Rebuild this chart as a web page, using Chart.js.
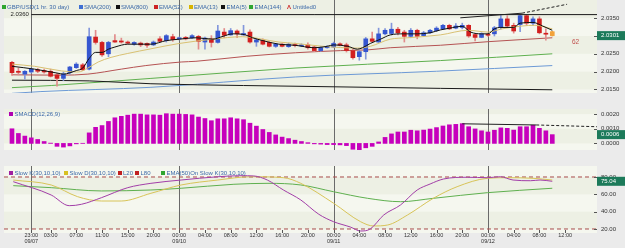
<!DOCTYPE html>
<html>
<head>
<meta charset="utf-8">
<script src="https://cdn.jsdelivr.net/npm/chart.js@4.4.1/dist/chart.umd.min.js"></script>
<style>
  body { margin: 0; background: #ebebeb; font-family: "Liberation Sans", Arial, sans-serif; }
  #wrap { position: relative; width: 625px; height: 248px; overflow: hidden; }
  #wrap canvas { position: absolute; left: 0; }
  .lg { position: absolute; font-size: 6px; line-height: 7px; color: #3d6aa8; white-space: nowrap; }
  .sq { position: absolute; width: 4px; height: 4px; }
  .note { position: absolute; white-space: nowrap; }
</style>
</head>
<body>
<div id="wrap">
  <canvas id="priceChart" width="625" height="108" style="top:0"></canvas>
  <canvas id="macdChart" width="625" height="56" style="top:109px"></canvas>
  <canvas id="stochChart" width="625" height="82" style="top:166px"></canvas>
  <span class="note" style="left:10.5px;top:11px;font-size:6px;color:#222">2.0360</span>
  <span class="note" style="left:572px;top:37.5px;font-size:6.5px;color:#c0504d">62</span>
</div>
<script>
// hourly bars, index 0 = first candle
const X_MIN = -1.24;
const X_MAX = 90.95;

const timeTickIdx = [3, 6, 10, 14, 18, 22, 26, 30, 34, 38, 42, 46, 50, 54, 58, 62, 66, 70, 74, 78, 82, 86];
const timeTickLabels = [
  ["23:00", "09/07"], "03:00", "07:00", "11:00", "15:00", "20:00",
  ["00:00", "09/10"], "04:00", "08:00", "12:00", "16:00", "20:00",
  ["00:00", "09/11"], "04:00", "08:00", "12:00", "16:00", "20:00",
  ["00:00", "09/12"], "04:00", "08:00", "12:00",
];
const dayLineIdx = [3, 26, 50, 74];

const openP = [2.0226, 2.0201, 2.0193, 2.0199, 2.0205, 2.0203, 2.0201, 2.0191, 2.0181, 2.0197,
  2.0211, 2.0219, 2.0207, 2.0297, 2.0282, 2.0250, 2.0287, 2.0286, 2.0283, 2.0277,
  2.0280, 2.0279, 2.0275, 2.0292, 2.0287, 2.0298, 2.0292, 2.0296, 2.0295, 2.0299,
  2.0283, 2.0292, 2.0282, 2.0311, 2.0303, 2.0314, 2.0303, 2.0311, 2.0283, 2.0287,
  2.0282, 2.0271, 2.0277, 2.0270, 2.0275, 2.0272, 2.0275, 2.0269, 2.0259, 2.0267,
  2.0269, 2.0278, 2.0275, 2.0259, 2.0242, 2.0256, 2.0292, 2.0283, 2.0306, 2.0307,
  2.0319, 2.0311, 2.0299, 2.0316, 2.0301, 2.0309, 2.0315, 2.0320, 2.0330, 2.0322,
  2.0324, 2.0330, 2.0304, 2.0296, 2.0305, 2.0306, 2.0324, 2.0348, 2.0330, 2.0332,
  2.0357, 2.0336, 2.0348, 2.0307, 2.0312];
const highP = [2.0229, 2.0210, 2.0203, 2.0210, 2.0209, 2.0207, 2.0207, 2.0195, 2.0199, 2.0215,
  2.0225, 2.0223, 2.0322, 2.0316, 2.0285, 2.0285, 2.0304, 2.0294, 2.0286, 2.0284,
  2.0283, 2.0281, 2.0286, 2.0298, 2.0304, 2.0305, 2.0297, 2.0299, 2.0304, 2.0302,
  2.0297, 2.0301, 2.0330, 2.0321, 2.0321, 2.0317, 2.0330, 2.0317, 2.0293, 2.0292,
  2.0284, 2.0279, 2.0279, 2.0280, 2.0280, 2.0278, 2.0281, 2.0272, 2.0271, 2.0273,
  2.0283, 2.0281, 2.0280, 2.0263, 2.0259, 2.0296, 2.0311, 2.0322, 2.0321, 2.0336,
  2.0324, 2.0316, 2.0321, 2.0319, 2.0313, 2.0319, 2.0326, 2.0333, 2.0333, 2.0335,
  2.0336, 2.0332, 2.0306, 2.0309, 2.0308, 2.0327, 2.0357, 2.0357, 2.0336, 2.0359,
  2.0359, 2.0354, 2.0354, 2.0320, 2.0313];
const lowP = [2.0189, 2.0191, 2.0179, 2.0196, 2.0197, 2.0196, 2.0185, 2.0159, 2.0175, 2.0193,
  2.0209, 2.0203, 2.0205, 2.0277, 2.0243, 2.0242, 2.0282, 2.0280, 2.0278, 2.0274,
  2.0270, 2.0268, 2.0273, 2.0283, 2.0283, 2.0285, 2.0289, 2.0289, 2.0293, 2.0263,
  2.0263, 2.0269, 2.0280, 2.0295, 2.0302, 2.0295, 2.0302, 2.0280, 2.0271, 2.0275,
  2.0269, 2.0268, 2.0269, 2.0268, 2.0269, 2.0270, 2.0263, 2.0256, 2.0257, 2.0266,
  2.0267, 2.0272, 2.0255, 2.0235, 2.0232, 2.0235, 2.0283, 2.0282, 2.0303, 2.0303,
  2.0303, 2.0283, 2.0295, 2.0292, 2.0299, 2.0307, 2.0313, 2.0319, 2.0318, 2.0320,
  2.0320, 2.0296, 2.0286, 2.0295, 2.0299, 2.0300, 2.0320, 2.0324, 2.0308, 2.0312,
  2.0330, 2.0330, 2.0306, 2.0288, 2.0300];
const closeP = [2.0197, 2.0198, 2.0201, 2.0207, 2.0201, 2.0199, 2.0187, 2.0181, 2.0193, 2.0213,
  2.0221, 2.0205, 2.0298, 2.0282, 2.0247, 2.0282, 2.0283, 2.0283, 2.0280, 2.0282,
  2.0275, 2.0274, 2.0283, 2.0285, 2.0301, 2.0290, 2.0295, 2.0292, 2.0301, 2.0285,
  2.0294, 2.0282, 2.0314, 2.0302, 2.0315, 2.0306, 2.0307, 2.0283, 2.0289, 2.0277,
  2.0271, 2.0277, 2.0271, 2.0277, 2.0273, 2.0275, 2.0267, 2.0259, 2.0267, 2.0271,
  2.0279, 2.0274, 2.0259, 2.0239, 2.0256, 2.0292, 2.0285, 2.0306, 2.0316, 2.0319,
  2.0309, 2.0299, 2.0316, 2.0299, 2.0309, 2.0316, 2.0322, 2.0330, 2.0320, 2.0328,
  2.0330, 2.0300, 2.0296, 2.0306, 2.0302, 2.0323, 2.0348, 2.0328, 2.0314, 2.0357,
  2.0336, 2.0348, 2.0309, 2.0305, 2.0301];

// moving averages as [bar index, price]
const ema5 = [[0, 2.0215], [3.5, 2.0207], [7, 2.0196], [8, 2.0193], [10, 2.0203], [11, 2.0210],
  [12, 2.0237], [13, 2.0254], [14, 2.0254], [15, 2.0263], [16, 2.0269], [18, 2.0277], [21.6, 2.0277],
  [24, 2.0287], [26, 2.0291], [28.6, 2.0295], [31.2, 2.0291], [32.8, 2.0299], [34.3, 2.0306],
  [36.3, 2.0303], [37.4, 2.0295], [39, 2.0287], [41.5, 2.0277], [44, 2.0274], [47, 2.0267],
  [49, 2.0271], [50, 2.0275], [52.2, 2.0271], [53.7, 2.0263], [54.5, 2.0267], [55.7, 2.0279],
  [57.3, 2.0291], [58.8, 2.0303], [60.9, 2.0306], [63, 2.0306], [65, 2.0309], [66.6, 2.0317],
  [68, 2.0322], [70, 2.0327], [71.3, 2.0311], [73, 2.0306], [74, 2.0306], [75, 2.0320],
  [76, 2.0324], [78, 2.0324], [79, 2.0336], [81, 2.0338], [82.5, 2.0328], [84, 2.0316]];
const ema13 = [[0, 2.0221], [3.5, 2.0215], [7.7, 2.0202], [10.3, 2.0199], [11.8, 2.0210],
  [13.4, 2.0227], [15.4, 2.0240], [18, 2.0251], [21.6, 2.0264], [26, 2.0279], [31.2, 2.0291],
  [35.8, 2.0298], [41.5, 2.0283], [44.1, 2.0279], [48.4, 2.0271], [53.7, 2.0266], [55.7, 2.0271],
  [58.8, 2.0291], [61.5, 2.0295], [66.6, 2.0303], [70.9, 2.0316], [74, 2.0311], [76.2, 2.0320],
  [79.3, 2.0328], [81.3, 2.0330], [84, 2.0320]];
const ema52 = [[0, 2.0191], [7.6, 2.0190], [11.8, 2.0193], [17, 2.0207], [20.8, 2.0217],
  [26.3, 2.0227], [28.6, 2.0229], [36.4, 2.0243], [44.1, 2.0253], [51.1, 2.0259], [55.3, 2.0261],
  [58.8, 2.0267], [66.6, 2.0274], [74, 2.0284], [84, 2.0295]];
const ema144 = [[0, 2.0155], [6.1, 2.0161], [21.6, 2.0181], [44, 2.0210], [66.6, 2.0231], [84, 2.0250]];
const sma200 = [[0, 2.0139], [4.5, 2.0144], [21.6, 2.0156], [44.1, 2.0185], [66, 2.0201], [84, 2.0217]];
const sma800 = [[0, 2.0176], [12, 2.0174], [21.6, 2.0166], [36, 2.0161], [44, 2.0159], [66.6, 2.0153], [84, 2.0149]];

const levelLine = [[3, 2.0360], [X_MAX, 2.0360]];
const trendSolid = [[69.7, 2.0351], [79.3, 2.0364]];
const trendDash = [[79.3, 2.0364], [86.3, 2.0389]];

const macdHist = [0.0010, 0.00068, 0.0005, 0.00038, 0.00027, 0.00013, 0.00002, -0.0002, -0.00025, -0.00017,
  -0.00003, 0.00001, 0.00072, 0.0011, 0.00122, 0.0015, 0.00175, 0.00185, 0.00193, 0.0020,
  0.0020, 0.00195, 0.00195, 0.00193, 0.00203, 0.0020, 0.0020, 0.00198, 0.00195, 0.0018,
  0.0017, 0.00155, 0.00168, 0.00168, 0.00175, 0.00168, 0.00162, 0.00138, 0.00118, 0.00095,
  0.00075, 0.00058, 0.00043, 0.00033, 0.00022, 0.00013, 0.00005, -0.00003, -0.00005, -0.00008,
  -0.00008, -0.0001, -0.00015, -0.0004, -0.00045, -0.0003, -0.0002, 0.0001, 0.00041, 0.00065,
  0.00078, 0.00078, 0.0009, 0.00086, 0.00091, 0.00098, 0.00108, 0.00119, 0.00127, 0.0013,
  0.00135, 0.00114, 0.00099, 0.00086, 0.00078, 0.0009, 0.00106, 0.00103, 0.00091, 0.00114,
  0.00114, 0.00124, 0.00103, 0.00086, 0.0006];
const macdTrendSolid = [[70, 0.00134], [81.5, 0.00126]];
const macdTrendDash = [[81.5, 0.00126], [90.95, 0.00114]];

const slowK = [[0.2, 74.6], [6.1, 59.2], [8.9, 46.9], [10.8, 48.5], [13.9, 56.1], [18, 67.7],
  [21.6, 72.7], [26.3, 76.5], [32, 80.3], [35.6, 81.5], [37.6, 81.2], [39.7, 76.5], [42.2, 65],
  [44.9, 53.5], [47.7, 37], [50, 28.4], [52.6, 22.3], [54.2, 17.7], [55.7, 20], [57.8, 36.2],
  [60.4, 47.7], [63, 65], [65, 71.9], [67.1, 77.7], [70.8, 79.7], [73.9, 79.2], [75.9, 80.3],
  [77.9, 76.5], [80.6, 75.7], [82.1, 76.5], [84, 75.04]];
const slowD = [[0.2, 76.5], [6.1, 70.8], [10.2, 57.3], [13.9, 52.3], [17, 52.3], [21.6, 61.2],
  [26.3, 70.8], [32, 76.5], [37.1, 80.3], [42.2, 79.2], [44.9, 72.7], [50, 49.7], [54.2, 28.4],
  [56.2, 23.5], [58.4, 24.6], [61.5, 36.2], [65.5, 55.4], [69.2, 68.8], [73.9, 78.5], [77, 79.2],
  [81, 78.5], [84, 76.5]];
const emaSlowK = [[0.2, 70], [6.1, 67.7], [13.9, 63.9], [21.6, 65], [26.3, 67], [34.5, 71.6],
  [39.8, 72.7], [44.9, 70.8], [50, 63], [55.3, 55.4], [60.4, 51.5], [65.5, 55.4], [73.9, 61.9], [84, 67]];
const stochLevels = [20, 80];

const priceTicks = [2.0150, 2.0200, 2.0250, 2.0300, 2.0350];
const macdTicks = [0, 0.001, 0.002];
const stochTicks = [20, 40, 60, 80];

const priceLegend = ["GBP/USD(1 hr. 30 day)", "SMA(200)", "SMA(800)", "EMA(52)", "EMA(13)", "EMA(5)", "EMA(144)", "Untitled0"];
const priceLegendColors = ["#2fa52f", "#3e6fd3", "#111111", "#cc2222", "#d8b400", "#111111", "#2fa52f", "#cc2222"];
const priceLegendX = [1.5, 78.5, 115.5, 153.5, 188.5, 221, 249, 287];
const macdLegend = ["SMACD(12,26,9)"];
const macdLegendColors = ["#b000b0"];
const macdLegendX = [9];
const stochLegend = ["Slow K(30,10,10)", "Slow D(30,10,10)", "L20", "L80", "EMA(50)On Slow K(30,10,10)"];
const stochLegendColors = ["#a020a0", "#d8c020", "#c02020", "#c02020", "#2fa52f"];
const stochLegendX = [9, 64, 117.5, 135, 161];

Chart.defaults.font.family = "'Liberation Sans', Arial, sans-serif";
Chart.defaults.font.size = 6;

const last = closeP.length - 1;
const bodyColors = closeP.map((c, i) => (i === last ? "#f2a23a" : c >= openP[i] ? "#3556d0" : "#d21f1f"));
const wickColors = closeP.map((c, i) => (i === last ? "#f2a23a" : c >= openP[i] ? "#8397dc" : "#e28b8b"));

function addLegend(labels, colors, xs, top) {
  const wrap = document.getElementById("wrap");
  labels.forEach((label, i) => {
    const mark = document.createElement("span");
    if (label === "Untitled0") {
      mark.className = "lg";
      mark.style.color = colors[i];
      mark.style.fontWeight = "bold";
      mark.textContent = "Λ";
      mark.style.left = xs[i] + "px";
      mark.style.top = top - 1.5 + "px";
    } else {
      mark.className = "sq";
      mark.style.background = colors[i];
      mark.style.left = xs[i] + "px";
      mark.style.top = top + "px";
    }
    wrap.appendChild(mark);
    const text = document.createElement("span");
    text.className = "lg";
    text.textContent = label;
    text.style.left = xs[i] + 5.5 + "px";
    text.style.top = top - 1.5 + "px";
    wrap.appendChild(text);
  });
}

function lineSet(points, color, order, extra) {
  return Object.assign({
    type: "line",
    data: points.map(([x, y]) => ({ x: x, y: y })),
    borderColor: color,
    borderWidth: 1,
    pointRadius: 0,
    cubicInterpolationMode: "monotone",
    order: order,
  }, extra || {});
}

function panelPlugin(cfg) {
  return {
    id: "panel",
    beforeDraw(chart) {
      const { ctx, chartArea: a, scales } = chart;
      ctx.save();
      ctx.beginPath();
      ctx.rect(a.left, a.top, a.width, a.height);
      ctx.clip();
      ctx.fillStyle = "#f5f7ef";
      ctx.fillRect(a.left, a.top, a.width, a.height);
      ctx.fillStyle = "#edf0e4";
      cfg.darkBands.forEach(([lo, hi]) => {
        const y1 = scales.y.getPixelForValue(hi);
        const y2 = scales.y.getPixelForValue(lo);
        ctx.fillRect(a.left, y1, a.width, y2 - y1);
      });
      ctx.restore();
    },
    beforeDatasetsDraw(chart) {
      const { ctx, chartArea: a, scales } = chart;
      ctx.save();
      ctx.strokeStyle = "#6a6a6a";
      ctx.lineWidth = 1;
      dayLineIdx.forEach((i) => {
        const px = Math.round(scales.x.getPixelForValue(i)) + 0.5;
        ctx.beginPath();
        ctx.moveTo(px, a.top);
        ctx.lineTo(px, a.bottom);
        ctx.stroke();
      });
      ctx.restore();
    },
    afterDraw(chart) {
      const { ctx, chartArea: a, scales } = chart;
      ctx.save();
      ctx.strokeStyle = "#555";
      ctx.lineWidth = 1;
      cfg.yTicks.forEach((v) => {
        const py = Math.round(scales.y.getPixelForValue(v)) + 0.5;
        ctx.beginPath();
        ctx.moveTo(a.right - 3, py);
        ctx.lineTo(a.right, py);
        ctx.stroke();
      });
      if (cfg.xTicks) {
        timeTickIdx.forEach((i) => {
          const px = Math.round(scales.x.getPixelForValue(i)) + 0.5;
          ctx.beginPath();
          ctx.moveTo(px, a.bottom - 3);
          ctx.lineTo(px, a.bottom);
          ctx.stroke();
        });
      }
      const ty = scales.y.getPixelForValue(cfg.tagValue);
      ctx.fillStyle = "#1c7a5a";
      ctx.fillRect(a.right, ty - 4.5, 625 - a.right, 9);
      ctx.fillStyle = "#ffffff";
      ctx.font = "6px 'Liberation Sans', Arial, sans-serif";
      ctx.textBaseline = "middle";
      ctx.fillText(cfg.tagText, a.right + 4, ty);
      ctx.restore();
    },
  };
}

function panelOptions(yMin, yMax, yTicks, digits, showX) {
  return {
    responsive: false,
    animation: false,
    devicePixelRatio: 1,
    events: [],
    layout: { padding: { left: 4, right: 0, top: 0, bottom: 0 } },
    plugins: { legend: { display: false }, tooltip: { enabled: false } },
    scales: {
      x: {
        type: "linear",
        min: X_MIN,
        max: X_MAX,
        offset: false,
        display: showX,
        grid: { display: false, drawTicks: false },
        border: { display: false },
        afterBuildTicks: (s) => { s.ticks = timeTickIdx.map((v) => ({ value: v })); },
        afterFit: (s) => { s.height = 15; s.paddingLeft = 0; s.paddingRight = 0; },
        ticks: {
          autoSkip: false,
          maxRotation: 0,
          minRotation: 0,
          padding: 0,
          color: "#333",
          font: { size: 5.5, lineHeight: 1 },
          callback: (v, i) => timeTickLabels[i],
        },
      },
      y: {
        position: "right",
        min: yMin,
        max: yMax,
        grid: { display: false, drawTicks: false },
        border: { display: false },
        afterBuildTicks: (s) => { s.ticks = yTicks.map((v) => ({ value: v })); },
        afterFit: (s) => { s.width = 28; s.paddingTop = 0; s.paddingBottom = 0; },
        ticks: { padding: 4, color: "#333", font: { size: 6 }, callback: (v) => v.toFixed(digits) },
      },
    },
  };
}

new Chart(document.getElementById("priceChart"), {
  type: "bar",
  data: {
    datasets: [
      lineSet(sma800, "#1a1a1a", 9),
      lineSet(sma200, "#6d9ad6", 9),
      lineSet(ema144, "#5fb04f", 9),
      lineSet(ema52, "#b55353", 9),
      {
        type: "bar",
        data: lowP.map((l, i) => ({ x: i, y: [l, highP[i]] })),
        backgroundColor: wickColors,
        barThickness: 1,
        grouped: false,
        order: 6,
      },
      {
        type: "bar",
        data: openP.map((o, i) => ({ x: i, y: [o, closeP[i]] })),
        backgroundColor: bodyColors,
        barThickness: 4,
        minBarLength: 1,
        grouped: false,
        order: 5,
      },
      lineSet(ema13, "#d9c173", 4),
      lineSet(ema5, "#111111", 3),
      lineSet(levelLine, "#1a1a1a", 2),
      lineSet(trendSolid, "#222222", 1),
      lineSet(trendDash, "#222222", 1, { borderDash: [3, 2] }),
    ],
  },
  options: panelOptions(2.0140, 2.0401, priceTicks, 4, false),
  plugins: [panelPlugin({
    darkBands: [[2.0150, 2.0200], [2.0250, 2.0300], [2.0350, 2.0401]],
    yTicks: priceTicks,
    tagValue: closeP[last],
    tagText: closeP[last].toFixed(4),
  })],
});

new Chart(document.getElementById("macdChart"), {
  type: "bar",
  data: {
    datasets: [
      {
        type: "bar",
        data: macdHist.map((v, i) => ({ x: i, y: v })),
        backgroundColor: "#c600bc",
        barThickness: 4,
        grouped: false,
        order: 3,
      },
      lineSet(macdTrendSolid, "#222222", 1),
      lineSet(macdTrendDash, "#222222", 1, { borderDash: [3, 2] }),
    ],
  },
  options: panelOptions(-0.00045, 0.00235, macdTicks, 4, false),
  plugins: [panelPlugin({
    darkBands: [[0, 0.001], [0.002, 0.00235]],
    yTicks: macdTicks,
    tagValue: macdHist[last],
    tagText: macdHist[last].toFixed(4),
  })],
});

new Chart(document.getElementById("stochChart"), {
  type: "line",
  data: {
    datasets: [
      lineSet([[X_MIN, stochLevels[0]], [X_MAX, stochLevels[0]]], "#a84a4a", 5, { borderDash: [4, 3] }),
      lineSet([[X_MIN, stochLevels[1]], [X_MAX, stochLevels[1]]], "#a84a4a", 5, { borderDash: [4, 3] }),
      lineSet(emaSlowK, "#5fb04f", 3),
      lineSet(slowD, "#d8c458", 2),
      lineSet(slowK, "#a23ea8", 1),
    ],
  },
  options: panelOptions(15.38, 92.69, stochTicks, 2, true),
  plugins: [panelPlugin({
    darkBands: [[20, 40], [60, 80]],
    yTicks: stochTicks,
    xTicks: true,
    tagValue: slowK[slowK.length - 1][1],
    tagText: slowK[slowK.length - 1][1].toFixed(2),
  })],
});

addLegend(priceLegend, priceLegendColors, priceLegendX, 5);
addLegend(macdLegend, macdLegendColors, macdLegendX, 112);
addLegend(stochLegend, stochLegendColors, stochLegendX, 171);
</script>
</body>
</html>
